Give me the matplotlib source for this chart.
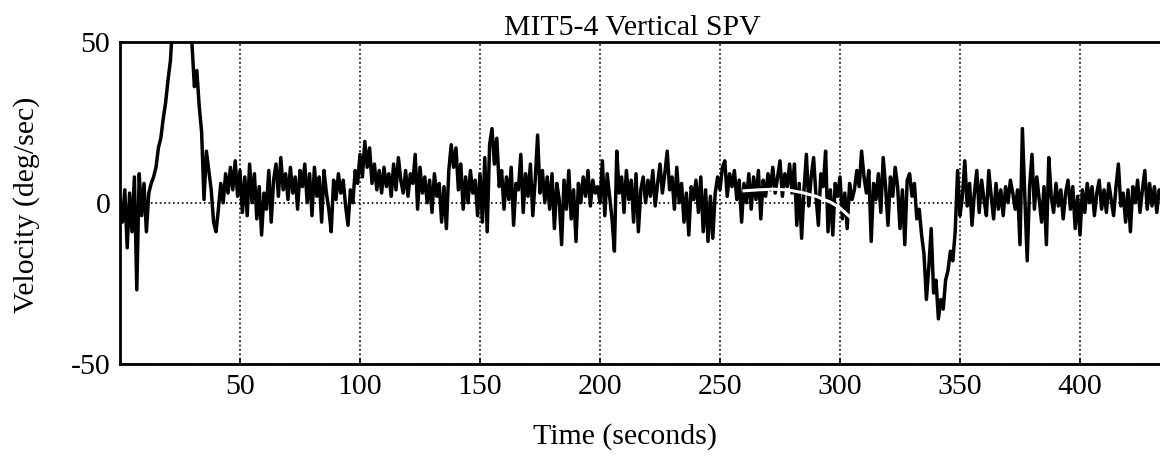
import matplotlib
matplotlib.use("Agg")
import matplotlib.pyplot as plt
import numpy as np

# Vertical slow-phase velocity (deg/sec), one value per second
spv = [
    1, -6, 4, -14, 3, -9, 8, -27, 9, -4,
    6, -9, 3, 6, 8, 11, 17, 20, 26, 31,
    38, 44, 56, 65, 70, 72, 74, 72, 66, 58,
    49, 36, 41, 30, 22, 1, 16, 10, 4, -6,
    -9, -2, 6, 0, 9, 3, 11, 4, 13, 2,
    10, -3, 8, -4, 12, 0, 9, -5, 5, -10,
    3, -2, 10, -6, 7, 12, 2, 14, 4, 9,
    1, 11, 3, 8, -2, 10, 5, 12, 0, 9,
    -4, 11, 2, 8, -6, 10, 3, -2, -9, 7,
    1, 9, 3, 7, -1, -7, 4, 0, 10, 6,
    15, 8, 19, 11, 17, 6, 12, 4, 10, 3,
    11, 5, 9, 2, 12, 4, 14, 7, 3, 10,
    2, 9, 6, 15, -2, 11, 3, 8, 0, 7,
    -3, 9, 2, 6, -6, 5, -8, 10, 18, 11,
    17, 4, 12, -2, 8, 0, 10, 3, 7, -4,
    9, -6, 14, -9, 18, 23, 12, 20, 5, 10,
    -2, 8, 1, 11, -7, 6, 4, 15, -3, 9,
    2, 12, -4, 7, 21, 3, 10, 0, 8, -2,
    9, -8, 6, 1, -13, 7, -2, 10, -5, 4,
    -12, 6, 0, 8, 2, 10, -1, 7, 3, 5,
    0, 13, -4, 9, 2, -5, -15, 16, 3, 8,
    -3, 10, 1, 7, -6, 9, -9, 4, 8, 0,
    7, 2, 10, -1, 6, 12, 3, 9, 16, 4,
    8, -2, 11, 0, 6, -6, 3, -10, 5, 1,
    7, -3, 8, -9, 4, -12, 2, -11, 3, 8,
    4, 11, 13, 2, 9, 5, 10, 1, 7, -6,
    6, 0, 9, -2, 8, 1, 10, -5, 7, 2,
    9, 4, 11, 3, 8, 13, 2, 9, 5, 12,
    3, 12, -7, 6, -11, 4, 15, -1, 8, 14,
    2, -7, 9, 5, 16, -9, 4, -10, 6, 2,
    8, -5, 3, -8, 6, 1, 4, 10, 5, 16,
    8, 3, 10, -12, 6, 1, 9, -3, 14, 5,
    -7, 8, 2, 11, 5, -8, 4, -13, 7, 9,
    2, 6, -5, -2, -10, -16, -30, -20, -8, -28,
    -24, -36, -30, -33, -24, -21, -15, -18, -9, 10,
    -4, 2, 13, -1, 6, -7, 3, 10, -3, 7,
    1, -4, 10, 2, -5, 6, -2, 4, -4, 5,
    0, 7, 3, -2, 4, -13, 23, 2, -18, 5,
    15, -2, 8, 1, -6, 5, -13, 14, 2, -3,
    6, -1, 4, -5, 3, 7, -2, 5, -8, 2,
    -10, 4, -3, 6, 0, 5, -4, 3, 7, -2,
    4, -3, 6, 1, -4, 5, 12, -1, 3, -6,
    4, -9, 5, 0, 7, -3, 4, 10, -2, 6,
    -1, 5, -3, 4, 1, -2, 6, 0,
]
time_s = np.arange(len(spv))

# white fitted curve drawn over the trace
fit_time = [260, 266, 272, 278, 284, 290, 296, 300, 305]
fit_spv = [3.7, 4.0, 4.2, 4.0, 3.2, 2.0, 0.2, -1.6, -5.0]

xticks = [50, 100, 150, 200, 250, 300, 350, 400]
yticks = [-50, 0, 50]

plt.rcParams['font.family'] = ['Liberation Serif', 'DejaVu Serif']
plt.rcParams['axes.unicode_minus'] = False

fig = plt.figure(figsize=(11.6, 4.62), dpi=100)
# axes runs off the right edge of the picture, as in the scan
ax = fig.add_axes([120/1160, 98/462, 1080/1160, 322.5/462])

ax.plot(time_s, spv, color='black', lw=2.5, zorder=3)
ax.plot(fit_time, fit_spv, color='white', lw=2.2, zorder=4)

ax.set_xlim(0, 450)
ax.set_ylim(-50, 50)
ax.set_xticks(xticks)
ax.set_yticks(yticks)
ax.grid(True, linestyle=':', color='black', lw=1.2)
ax.set_axisbelow(True)
ax.tick_params(direction='in', length=4, width=1.2, labelsize=21.5, pad=7)
for s in ax.spines.values():
    s.set_linewidth(2.0)

fig.text(632/1160, 1 - 28/462, 'MIT5-4 Vertical SPV', ha='center', va='center', fontsize=21.5)
fig.text(625/1160, 1 - 437/462, 'Time (seconds)', ha='center', va='center', fontsize=21.5)
fig.text(27/1160, 1 - 205/462, 'Velocity (deg/sec)', ha='center', va='center',
         rotation=90, fontsize=21.5)

fig.savefig('out.png', dpi=100)
